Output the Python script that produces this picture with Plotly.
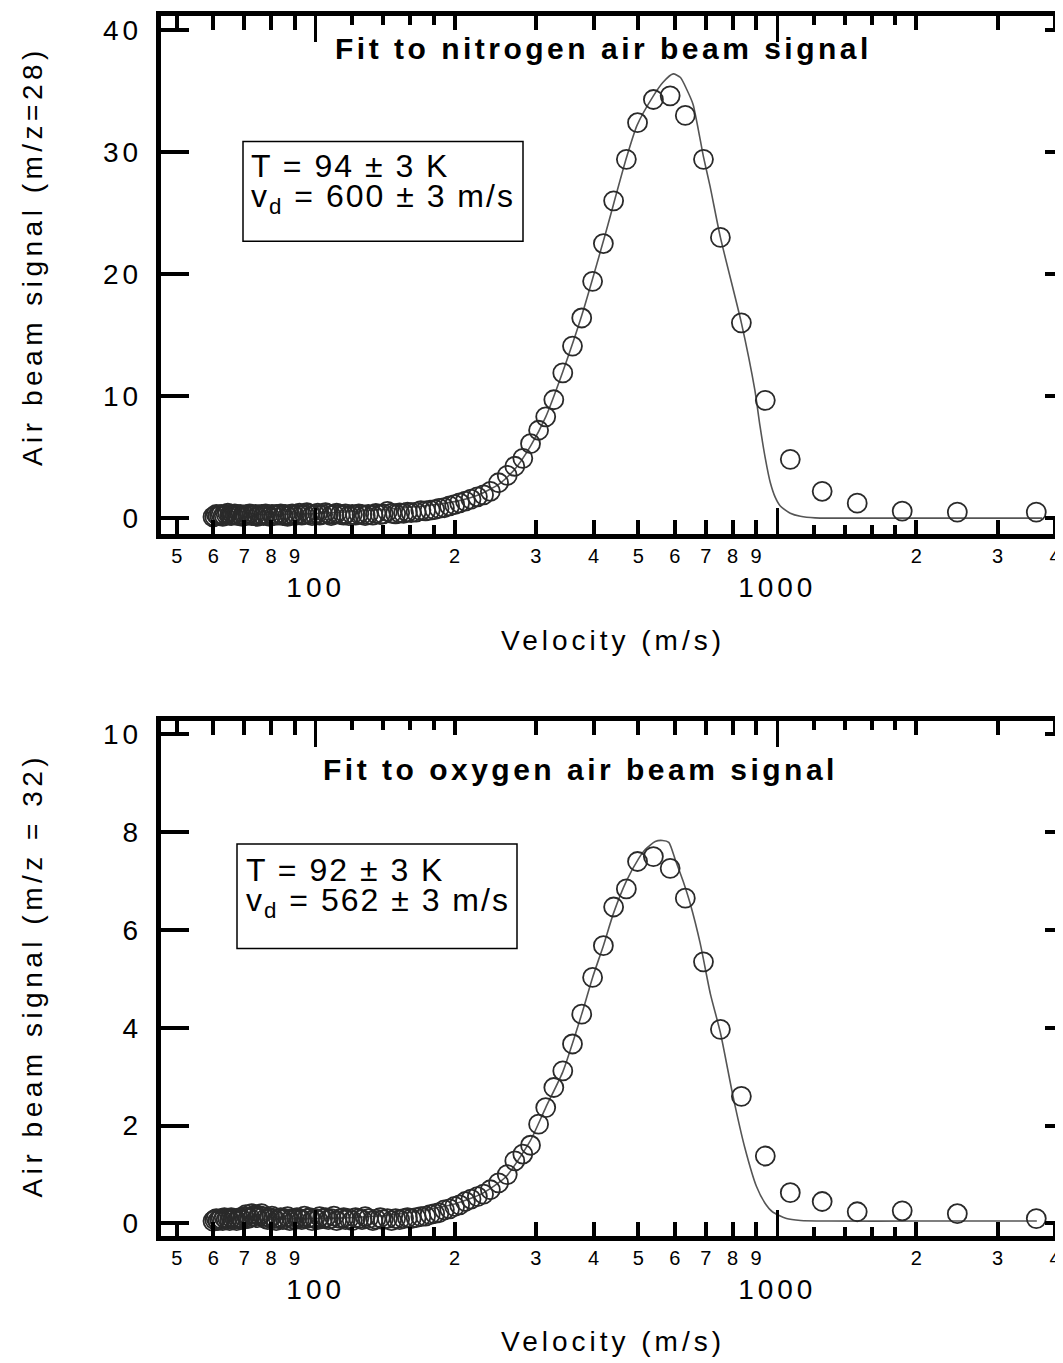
import plotly.graph_objects as go

# the page body keeps its 8px margin, so the figure is 8px smaller each way
OFF = 8
FW, FH = 1063 - OFF, 1363 - OFF
FONT = "Liberation Sans, Arial, sans-serif"

# velocity of each time-of-flight bin (m/s), same bins in both panels
velocity = [3640, 2455, 1865, 1490, 1251, 1067, 942, 836, 753, 692,
            632, 586, 539, 498, 471, 442, 420, 398, 377, 360,
            343, 328, 315, 304, 292, 281, 270, 260, 249, 239,
            231, 224, 217, 211, 205, 200, 195, 190, 185, 181,
            177, 173, 169, 165, 161, 158, 155, 152, 149, 146,
            143, 140, 138, 135, 133, 130, 128, 126, 124, 122,
            120, 118, 116, 115, 113, 111, 109.5, 108, 106.5, 105,
            103.5, 102, 101, 99.5, 98.2, 97, 95.7, 94.5, 93.3, 92.2,
            91.1, 90, 88.9, 87.9, 86.9, 85.9, 84.9, 84, 83, 82.1,
            81.2, 80.4, 79.5, 78.7, 77.9, 77.1, 76.3, 75.5, 74.8, 74.1,
            73.3, 72.6, 71.9, 71.3, 70.6, 69.9, 69.3, 68.6, 68, 67.4,
            66.8, 66.2, 65.6, 65.1, 64.5, 64, 63.4, 62.9, 62.4, 61.9,
            61.4, 60.9, 60.4, 59.9]

# nitrogen signal (m/z=28)
n2_signal = [0.49, 0.49, 0.57, 1.23, 2.2, 4.82, 9.65, 16.0, 23.0, 29.4,
             33.0, 34.6, 34.3, 32.4, 29.4, 26.0, 22.5, 19.4, 16.4, 14.1,
             11.9, 9.7, 8.3, 7.2, 6.1, 4.9, 4.25, 3.5, 2.9, 2.2,
             1.9, 1.75, 1.55, 1.4, 1.25, 1.1, 1.0, 0.85, 0.8, 0.7,
             0.65, 0.6, 0.62, 0.5, 0.45, 0.5, 0.4, 0.42, 0.35, 0.4,
             0.55, 0.35, 0.3, 0.38, 0.25, 0.3, 0.2, 0.28, 0.35, 0.25,
             0.3, 0.2, 0.35, 0.25, 0.3, 0.4, 0.3, 0.2, 0.35, 0.45,
             0.3, 0.25, 0.4, 0.3, 0.2, 0.35, 0.45, 0.3, 0.25, 0.4,
             0.3, 0.2, 0.35, 0.25, 0.15, 0.3, 0.2, 0.35, 0.25, 0.3,
             0.2, 0.3, 0.15, 0.25, 0.35, 0.2, 0.3, 0.25, 0.15, 0.3,
             0.25, 0.2, 0.35, 0.3, 0.2, 0.25, 0.15, 0.3, 0.2, 0.25,
             0.35, 0.3, 0.2, 0.25, 0.4, 0.3, 0.2, 0.15, 0.3, 0.25,
             0.2, 0.3, 0.15, 0.1]

# oxygen signal (m/z=32)
o2_signal = [0.1, 0.2, 0.26, 0.24, 0.45, 0.63, 1.38, 2.6, 3.97, 5.35,
             6.65, 7.26, 7.5, 7.4, 6.84, 6.47, 5.68, 5.03, 4.28, 3.67,
             3.12, 2.78, 2.37, 2.03, 1.6, 1.42, 1.28, 1.0, 0.83, 0.69,
             0.6, 0.55, 0.5, 0.45, 0.38, 0.35, 0.3, 0.28, 0.22, 0.2,
             0.18, 0.15, 0.14, 0.12, 0.1, 0.12, 0.1, 0.08, 0.1, 0.06,
             0.1, 0.08, 0.12, 0.09, 0.06, 0.1, 0.14, 0.08, 0.1, 0.12,
             0.06, 0.1, 0.08, 0.12, 0.1, 0.06, 0.15, 0.1, 0.08, 0.12,
             0.1, 0.14, 0.08, 0.1, 0.06, 0.12, 0.1, 0.15, 0.08, 0.1,
             0.12, 0.08, 0.1, 0.06, 0.14, 0.1, 0.08, 0.12, 0.1, 0.06,
             0.1, 0.15, 0.12, 0.08, 0.1, 0.14, 0.2, 0.16, 0.12, 0.18,
             0.15, 0.2, 0.12, 0.1, 0.18, 0.14, 0.08, 0.12, 0.1, 0.06,
             0.1, 0.08, 0.12, 0.06, 0.1, 0.08, 0.12, 0.06, 0.1, 0.08,
             0.06, 0.1, 0.08, 0.05]

# fitted curves
n2_fit_v = [75, 85, 100, 120, 150, 180, 200, 225, 250, 270, 292, 315, 343, 377,
            420, 471, 497, 539, 565, 595, 617, 637, 657, 692, 715, 753, 836,
            894, 917, 942, 966, 990, 1015, 1067, 1122, 1208, 1400, 2000, 3000, 3750]
n2_fit_y = [0.3, 0.32, 0.38, 0.55, 0.8, 1.1, 1.35, 1.9, 2.8, 4.0, 5.9, 8.3, 12.0, 16.6,
            22.7, 29.5, 32.2, 34.6, 35.7, 36.4, 36.1, 35.1, 33.9, 29.6, 27.2, 23.0, 16.0,
            10.5, 7.6, 4.9, 2.9, 1.7, 1.0, 0.4, 0.15, 0.02, 0.0, 0.0, 0.0, 0.0]

o2_fit_v = [71, 93, 119, 153, 200, 228, 258, 292, 315, 343, 377, 398, 420, 442, 471,
            500, 518, 544, 564, 582, 601, 625, 648, 681, 716, 753, 802, 850, 902,
            940, 976, 1047, 1123, 1300, 2000, 3000, 3650]
o2_fit_y = [0.08, 0.1, 0.12, 0.2, 0.4, 0.6, 0.95, 1.7, 2.37, 3.1, 4.28, 5.03, 5.68, 6.35, 7.0,
            7.45, 7.65, 7.81, 7.83, 7.79, 7.44, 7.0, 6.53, 5.72, 4.7, 3.9, 2.6, 1.56, 0.75,
            0.42, 0.24, 0.1, 0.06, 0.05, 0.05, 0.05, 0.05]

# tick labels
x_small_vals = [50, 60, 70, 80, 90, 200, 300, 400, 500, 600, 700, 800, 900, 2000, 3000, 4000]
x_small_text = ['5', '6', '7', '8', '9', '2', '3', '4', '5', '6', '7', '8', '9', '2', '3', '4']
x_sub_vals = [120, 140, 160, 180, 1200, 1400, 1600, 1800]
x_decade_vals = [100, 1000]
x_decade_text = ['100', '1000']
n2_yticks = [0, 10, 20, 30, 40]
o2_yticks = [0, 2, 4, 6, 8, 10]


def sp(s, px):
    return '<span style="letter-spacing:%spx">%s</span>' % (px, s)


def fx(p):
    return (p - OFF) / FW


def fy(p):
    return 1 - (p - OFF) / FH


fig = go.Figure()

panels = [
    ('x', 'y', 'x3', 'y3', n2_fit_v, n2_fit_y, n2_signal),
    ('x2', 'y2', 'x4', 'y4', o2_fit_v, o2_fit_y, o2_signal),
]
for xa, ya, xo, yo, fv, fyv, sig in panels:
    fig.add_trace(go.Scatter(x=fv, y=fyv, mode='lines', xaxis=xa, yaxis=ya,
                             line=dict(color='#555555', width=1.6, shape='spline', smoothing=0.6),
                             hoverinfo='skip'))
    fig.add_trace(go.Scatter(x=velocity, y=sig, mode='markers', xaxis=xa, yaxis=ya,
                             marker=dict(symbol='circle-open', size=19, color='#2a2a2a',
                                         line=dict(width=1.8, color='#2a2a2a'))))
    # empty traces so the overlaid tick-only axes get drawn
    fig.add_trace(go.Scatter(x=[], y=[], xaxis=xo, yaxis=ya, hoverinfo='skip'))
    fig.add_trace(go.Scatter(x=[], y=[], xaxis=xa, yaxis=yo, hoverinfo='skip'))

xrange_log = [1.6644, 3.619]
xdom = [fx(160.8), 1.0]

main_x = dict(type='log', range=xrange_log, domain=xdom, showline=True, linewidth=5,
              linecolor='black', mirror='ticks', ticks='inside', tickmode='array',
              tickvals=x_small_vals, ticktext=x_small_text, ticklen=14, tickwidth=4,
              tickcolor='black', tickfont=dict(size=20, family=FONT, color='black'),
              ticklabelstandoff=0, ticklabeloverflow='allow', showgrid=False, zeroline=False,
              minor=dict(tickmode='array', tickvals=x_sub_vals, ticks='inside',
                         ticklen=9, tickwidth=4, tickcolor='black', showgrid=False))
dec_x = dict(type='log', range=xrange_log, showline=False, mirror='ticks', ticks='inside',
             tickmode='array', tickvals=x_decade_vals,
             ticktext=[sp(t, 4) for t in x_decade_text], ticklen=26, tickwidth=3,
             tickcolor='black', tickfont=dict(size=28, family=FONT, color='black'),
             ticklabelstandoff=34, ticklabeloverflow='allow', showgrid=False, zeroline=False)


def left_y(dom, rng, vals):
    return dict(domain=dom, range=rng, tickmode='array', tickvals=vals,
                ticktext=[sp(v, 4) for v in vals], ticks='inside', ticklen=28,
                tickwidth=4, tickcolor='black', showline=True, linewidth=5,
                linecolor='black', tickfont=dict(size=28, family=FONT, color='black'),
                ticklabelstandoff=8, showgrid=False, zeroline=False)


def right_y(rng, vals, over):
    return dict(range=rng, overlaying=over, side='right', tickmode='array', tickvals=vals,
                ticks='inside', ticklen=18, tickwidth=4, tickcolor='black',
                showticklabels=False, showline=False, showgrid=False, zeroline=False)


n2_rng = [-1.28, 41.12]
o2_rng = [-0.265, 10.265]

fig.update_layout(
    width=FW, height=FH, margin=dict(l=0, r=0, t=0, b=0),
    paper_bgcolor='white', plot_bgcolor='white', showlegend=False,
    font=dict(family=FONT, color='black'),
    xaxis=dict(main_x, anchor='y'),
    xaxis2=dict(main_x, anchor='y2'),
    xaxis3=dict(dec_x, anchor='y', overlaying='x'),
    xaxis4=dict(dec_x, anchor='y2', overlaying='x2'),
    yaxis=dict(left_y([fy(533.7), fy(14.3)], n2_rng, n2_yticks), anchor='x'),
    yaxis2=dict(left_y([fy(1239), fy(722)], o2_rng, o2_yticks), anchor='x2'),
    yaxis3=dict(right_y(n2_rng, n2_yticks, 'y'), anchor='x'),
    yaxis4=dict(right_y(o2_rng, o2_yticks, 'y2'), anchor='x2'),
)

anns = [
    # panel titles
    (sp('<b>Fit to nitrogen air beam signal</b>', 3.5), 603, 47, 30, 'center', 0),
    (sp('<b>Fit to oxygen air beam signal</b>', 3.5), 581, 770, 30, 'center', 0),
    # axis titles
    (sp('Velocity (m/s)', 4), 613, 641, 28, 'center', 0),
    (sp('Velocity (m/s)', 4), 613, 1344, 28, 'center', 0),
    (sp('Air beam signal (m/z=28)', 4.5), 32, 255, 28, 'center', -90),
    (sp('Air beam signal (m/z = 32)', 4.5), 32, 977, 28, 'center', -90),
    # fit results
    (sp('T = 94 ± 3 K', 2), 249, 165, 32, 'left', 0),
    (sp('v<sub>d</sub> = 600 ± 3 m/s', 2), 249, 197, 32, 'left', 0),
    (sp('T = 92 ± 3 K', 2), 244, 871, 32, 'left', 0),
    (sp('v<sub>d</sub> = 562 ± 3 m/s', 2), 244, 904, 32, 'left', 0),
]
for text, xp, yp, size, xanchor, angle in anns:
    fig.add_annotation(text=text, x=fx(xp), y=fy(yp), xref='paper', yref='paper',
                       xanchor=xanchor, yanchor='middle', showarrow=False, textangle=angle,
                       font=dict(size=size, family=FONT, color='black'))

# boxes round the fit results
for x0, x1, y0, y1 in [(243, 523, 140, 240), (237, 517, 845, 950)]:
    fig.add_shape(type='rect', xref='paper', yref='paper', x0=fx(x0), x1=fx(x1),
                  y0=fy(y1), y1=fy(y0), line=dict(color='black', width=1.5))

fig.write_html("out.html")
